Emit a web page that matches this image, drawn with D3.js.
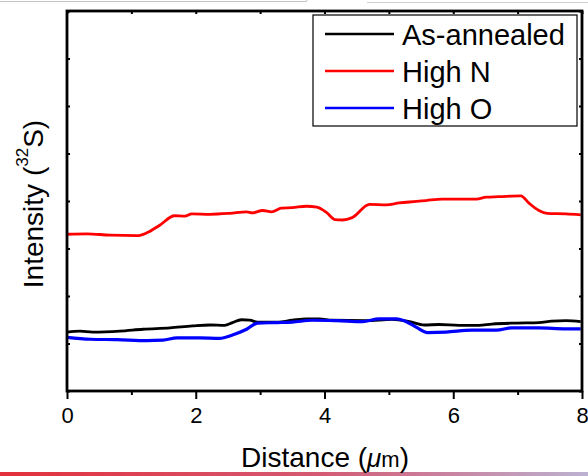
<!doctype html>
<html>
<head>
    <meta charset="UTF-8">
    <title>Intensity profile</title>
    <script src="https://d3js.org/d3.v7.min.js"></script>
    <style>
        body { margin: 0; background: #fff; }
        svg { display: block; font-family: "Liberation Sans", Arial, "Noto Sans CJK KR", sans-serif; }
    </style>
</head>
<body>
<svg width="588" height="476"></svg>
<script>
    // distance (um) and intensity (arb. units)
    var annealedX = [0, 0.20, 0.40, 0.82, 1.18, 1.60, 1.95, 2.22, 2.45, 2.57, 2.71, 2.84, 2.96, 3.26, 3.50, 3.72, 3.92, 4.12, 4.65, 5.05, 5.32, 5.55, 5.78, 6.09, 6.40, 6.60, 6.98, 7.33, 7.53, 7.75, 7.98];
    var annealedY = [1.24, 1.26, 1.24, 1.26, 1.30, 1.33, 1.37, 1.39, 1.38, 1.44, 1.50, 1.49, 1.45, 1.45, 1.49, 1.52, 1.52, 1.49, 1.48, 1.51, 1.46, 1.39, 1.40, 1.38, 1.38, 1.41, 1.43, 1.44, 1.47, 1.48, 1.46];

    var highNX = [0, 0.31, 0.67, 1.09, 1.24, 1.44, 1.67, 1.83, 1.94, 2.22, 2.53, 2.79, 2.88, 3.04, 3.18, 3.33, 3.50, 3.72, 3.88, 4.03, 4.16, 4.28, 4.43, 4.70, 4.96, 5.16, 5.43, 5.58, 5.83, 6.09, 6.36, 6.51, 6.71, 7.05, 7.18, 7.33, 7.46, 7.75, 7.98];
    var highNY = [3.30, 3.31, 3.28, 3.27, 3.33, 3.49, 3.69, 3.68, 3.73, 3.72, 3.74, 3.77, 3.75, 3.80, 3.77, 3.85, 3.86, 3.89, 3.87, 3.76, 3.61, 3.60, 3.65, 3.93, 3.92, 3.96, 3.99, 4.01, 4.04, 4.04, 4.04, 4.08, 4.09, 4.11, 3.95, 3.80, 3.74, 3.73, 3.71];

    var highOX = [0, 0.36, 0.78, 1.24, 1.49, 1.71, 2.06, 2.37, 2.57, 2.79, 2.96, 3.26, 3.50, 3.81, 4.19, 4.59, 4.85, 5.12, 5.27, 5.43, 5.60, 5.89, 6.29, 6.67, 6.91, 7.33, 7.75, 7.98];
    var highOY = [1.13, 1.09, 1.08, 1.06, 1.07, 1.12, 1.12, 1.11, 1.18, 1.30, 1.43, 1.44, 1.45, 1.49, 1.48, 1.46, 1.52, 1.52, 1.46, 1.34, 1.23, 1.24, 1.28, 1.28, 1.33, 1.33, 1.31, 1.31];

    var seriesNames = ["As-annealed", "High N", "High O"];
    var seriesColors = ["#000000", "#ff0000", "#0000ff"];
    var xMajorTicks = [0, 2, 4, 6, 8];
    var xMinorTicks = [1, 3, 5, 7];

    var svg = d3.select("svg");

    // screenshot edges
    var grad = svg.append("defs").append("linearGradient").attr("id", "bar");
    grad.append("stop").attr("offset", "0%").attr("stop-color", "#e3303c");
    grad.append("stop").attr("offset", "55%").attr("stop-color", "#d45a74");
    grad.append("stop").attr("offset", "100%").attr("stop-color", "#bcb2d2");
    svg.append("rect").attr("x", 0).attr("y", 472).attr("width", 588).attr("height", 4).attr("fill", "url(#bar)");
    svg.append("path").attr("d", "M0,1.5H305Q307,1.5 307,0").attr("fill", "none").attr("stroke", "#c4c4c4").attr("stroke-width", 1.2);
    svg.append("path").attr("d", "M367,2.5H588").attr("fill", "none").attr("stroke", "#d0d0d0").attr("stroke-width", 1.2);

    var x = d3.scaleLinear().domain([0, 8]).range([67, 582]);
    var y = d3.scaleLinear().domain([0, 8]).range([391, 11]);

    // inward ticks on top, left, right
    svg.append("g").attr("transform", "translate(0,11)")
        .call(d3.axisTop(x).ticks(8).tickSize(-3).tickFormat(""));
    svg.append("g").attr("transform", "translate(67,0)")
        .call(d3.axisLeft(y).ticks(8).tickSize(-3).tickFormat(""));
    svg.append("g").attr("transform", "translate(582,0)")
        .call(d3.axisRight(y).ticks(8).tickSize(-3).tickFormat(""));

    // bottom axis, outward ticks
    svg.append("g").attr("transform", "translate(0,391)")
        .call(d3.axisBottom(x).tickValues(xMinorTicks).tickSize(4).tickFormat(""));
    var bottom = svg.append("g").attr("class", "xaxis").attr("transform", "translate(0,391)")
        .call(d3.axisBottom(x).tickValues(xMajorTicks).tickSize(8).tickPadding(8).tickFormat(d3.format("d")));
    bottom.selectAll("text").attr("font-size", 22).attr("fill", "#000")
        .style("font-family", "'Liberation Sans', Arial, sans-serif");

    svg.selectAll(".domain").remove();
    svg.selectAll(".tick line").attr("stroke", "#000").attr("stroke-width", 2);

    var line = d3.line()
        .x(function (d) { return x(d[0]); })
        .y(function (d) { return y(d[1]); })
        .curve(d3.curveMonotoneX);

    var data = [d3.zip(annealedX, annealedY), d3.zip(highNX, highNY), d3.zip(highOX, highOY)];
    var widths = [2.8, 2.8, 3.2];

    svg.append("g").selectAll("path").data([0, 1, 2]).enter().append("path")
        .attr("d", function (i) { return line(data[i]); })
        .attr("fill", "none")
        .attr("stroke", function (i) { return seriesColors[i]; })
        .attr("stroke-width", function (i) { return widths[i]; })
        .attr("stroke-linejoin", "round");

    // frame
    svg.append("rect").attr("x", 67).attr("y", 11).attr("width", 515).attr("height", 380)
        .attr("fill", "none").attr("stroke", "#000").attr("stroke-width", 2.8);

    // legend
    svg.append("rect").attr("x", 313).attr("y", 15).attr("width", 264).attr("height", 111)
        .attr("fill", "#fff").attr("stroke", "#000").attr("stroke-width", 1.2);
    var lg = svg.append("g").selectAll("g").data(seriesNames).enter().append("g")
        .attr("transform", function (d, i) { return "translate(0," + (34 + i * 37) + ")"; });
    lg.append("line").attr("x1", 325).attr("x2", 394).attr("y1", 0).attr("y2", 0)
        .attr("stroke", function (d, i) { return seriesColors[i]; }).attr("stroke-width", 2.6);
    lg.append("text").attr("x", 402).attr("y", 11).attr("font-size", 29).text(function (d) { return d; });

    // axis titles
    var xt = svg.append("text").attr("x", 325).attr("y", 467).attr("text-anchor", "middle").attr("font-size", 28);
    xt.append("tspan").text("Distance (");
    xt.append("tspan").attr("font-style", "italic").attr("font-size", 26).text("μ");
    xt.append("tspan").attr("font-size", 22).text("m");
    xt.append("tspan").text(")");

    var yt = svg.append("text").attr("transform", "translate(43,204) rotate(-90)")
        .attr("text-anchor", "middle").attr("font-size", 28);
    yt.append("tspan").text("Intensity (");
    yt.append("tspan").attr("font-size", 17).attr("dy", -15).text("32");
    yt.append("tspan").attr("dy", 15).text("S)");
</script>
</body>
</html>
